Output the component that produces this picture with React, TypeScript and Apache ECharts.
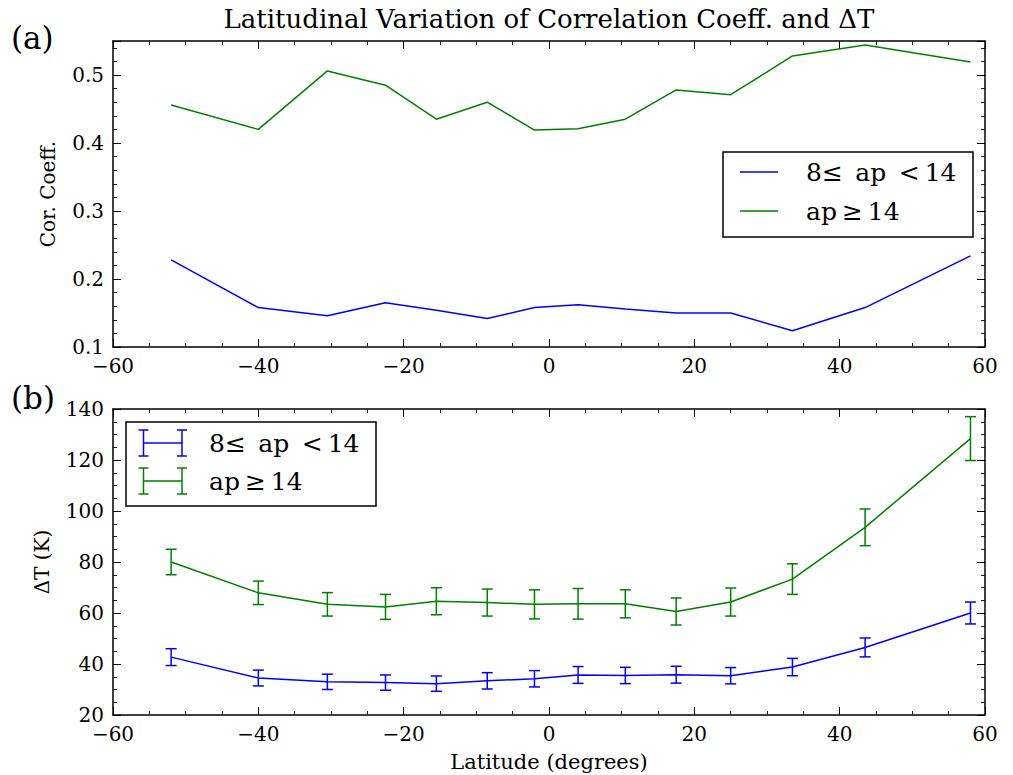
import React, { useEffect, useRef } from "react";
import * as echarts from "echarts";

const latitudes = [-52, -40, -30.5, -22.5, -15.5, -8.5, -2, 4, 10.5, 17.5, 25, 33.5, 43.5, 58];
const corrLow = [0.228, 0.158, 0.146, 0.165, 0.154, 0.142, 0.158, 0.162, 0.156, 0.150, 0.150, 0.124, 0.158, 0.234];
const corrHigh = [0.456, 0.420, 0.506, 0.485, 0.435, 0.460, 0.419, 0.421, 0.435, 0.478, 0.471, 0.528, 0.544, 0.519];
const dtLow = [42.7, 34.5, 33.0, 32.7, 32.3, 33.4, 34.2, 35.7, 35.5, 35.8, 35.4, 38.8, 46.5, 60.0];
const dtLowErr = [3.3, 3.1, 3.0, 3.0, 3.0, 3.2, 3.2, 3.3, 3.2, 3.3, 3.2, 3.4, 3.7, 4.3];
const dtHigh = [80.0, 67.9, 63.4, 62.4, 64.6, 64.1, 63.4, 63.6, 63.6, 60.6, 64.3, 73.3, 93.6, 128.4];
const dtHighErr = [5.0, 4.6, 4.6, 4.9, 5.3, 5.3, 5.7, 6.0, 5.5, 5.3, 5.5, 6.0, 7.2, 8.6];

const labelLow = "8≤\u2002ap\u2002<\u200914";
const labelHigh = "ap\u2009≥\u200914";
const titleText = "Latitudinal Variation of Correlation Coeff. and ΔT";

const BLUE = "#0000ff";
const GREEN = "#008000";
const FONT = "DejaVu Serif";

export default function App() {
  const ref = useRef<HTMLDivElement>(null);
  useEffect(() => {
    if (!ref.current) return;
    const chart = echarts.init(ref.current, null, { renderer: "svg" });

    const axisLine = { show: true, onZero: false, lineStyle: { color: "#000", width: 1.5 } };
    const tick = (len: number) => ({ show: true, inside: true, length: len, lineStyle: { color: "#000", width: 1 } });
    const minor = (n: number) => ({ show: true, splitNumber: n, length: 4, lineStyle: { color: "#222", width: 1 } });
    const xLabel = {
      show: true,
      margin: 9,
      fontFamily: FONT,
      fontSize: 20,
      color: "#000",
      formatter: (v: number) => String(v).replace("-", "\u2212"),
    };
    const xBase = (grid: number, pos: string, labels: boolean, extra: any = {}) => ({
      type: "value",
      gridIndex: grid,
      position: pos,
      min: -60,
      max: 60,
      interval: 20,
      axisLine,
      axisTick: tick(8),
      minorTick: minor(4),
      splitLine: { show: false },
      minorSplitLine: { show: false },
      axisLabel: labels ? xLabel : { show: false },
      ...extra,
    });
    const yBase = (grid: number, pos: string, min: number, max: number, interval: number, minorN: number, labels: boolean, showMax: boolean, fmt: any, extra: any = {}) => ({
      type: "value",
      gridIndex: grid,
      position: pos,
      min,
      max,
      interval,
      axisLine,
      axisTick: tick(8),
      minorTick: minor(minorN),
      splitLine: { show: false },
      minorSplitLine: { show: false },
      axisLabel: labels
        ? { show: true, margin: 9, fontFamily: FONT, fontSize: 20, color: "#000", showMaxLabel: showMax, formatter: fmt }
        : { show: false },
      ...extra,
    });

    const errSeries = (name: string, vals: number[], errs: number[], color: string) => ({
      type: "custom",
      name,
      xAxisIndex: 1,
      yAxisIndex: 1,
      data: latitudes.map((x, i) => [x, vals[i] - errs[i], vals[i] + errs[i]]),
      encode: { x: 0, y: [1, 2] },
      z: 3,
      renderItem: (_p: any, api: any) => {
        const x = api.value(0);
        const lo = api.coord([x, api.value(1)]);
        const hi = api.coord([x, api.value(2)]);
        const w = 5.5;
        const style = { stroke: color, lineWidth: 1.5 };
        return {
          type: "group",
          children: [
            { type: "line", shape: { x1: lo[0], y1: lo[1], x2: hi[0], y2: hi[1] }, style },
            { type: "line", shape: { x1: lo[0] - w, y1: lo[1], x2: lo[0] + w, y2: lo[1] }, style },
            { type: "line", shape: { x1: hi[0] - w, y1: hi[1], x2: hi[0] + w, y2: hi[1] }, style },
          ],
        };
      },
    });

    const lineSeries = (name: string, vals: number[], color: string, xi: number, yi: number) => ({
      type: "line",
      name,
      xAxisIndex: xi,
      yAxisIndex: yi,
      data: latitudes.map((x, i) => [x, vals[i]]),
      showSymbol: false,
      symbol: "none",
      lineStyle: { color, width: 1.5 },
      itemStyle: { color },
      z: 4,
    });

    const txt = (x: number, y: number, text: string, size: number, extra: any = {}) => ({
      type: "text",
      x,
      y,
      z: 100,
      style: { text, fontFamily: FONT, fontSize: size, fill: "#000", verticalAlign: "middle", align: "left", ...extra },
    });
    const seg = (x1: number, y1: number, x2: number, y2: number, color: string) => ({
      type: "line",
      z: 101,
      shape: { x1, y1, x2, y2 },
      style: { stroke: color, lineWidth: 1.5 },
    });
    const errIcon = (yc: number, color: string) => {
      const xl = 143.5, xr = 182, h = 13, w = 5;
      return [
        seg(xl, yc, xr, yc, color),
        seg(xl, yc - h, xl, yc + h, color),
        seg(xr, yc - h, xr, yc + h, color),
        seg(xl - w, yc - h, xl + w, yc - h, color),
        seg(xl - w, yc + h, xl + w, yc + h, color),
        seg(xr - w, yc - h, xr + w, yc - h, color),
        seg(xr - w, yc + h, xr + w, yc + h, color),
      ];
    };

    chart.setOption({
      animation: false,
      backgroundColor: "#fff",
      title: {
        text: titleText,
        left: 549,
        top: 6,
        padding: 0,
        textAlign: "center",
        textStyle: { fontFamily: FONT, fontSize: 26, fontWeight: "normal", color: "#000" },
      },
      grid: [
        { left: 113, top: 41, width: 872, height: 306 },
        { left: 113, top: 409, width: 872, height: 306 },
      ],
      xAxis: [
        xBase(0, "bottom", true),
        xBase(1, "bottom", true, {
          name: "Latitude (degrees)",
          nameLocation: "middle",
          nameGap: 36,
          nameTextStyle: { fontFamily: FONT, fontSize: 21, color: "#000" },
        }),
        xBase(0, "top", false),
        xBase(1, "top", false),
      ],
      yAxis: [
        yBase(0, "left", 0.1, 0.55, 0.1, 5, true, false, (v: number) => v.toFixed(1), {
          name: "Cor. Coeff.",
          nameLocation: "middle",
          nameGap: 55,
          nameTextStyle: { fontFamily: FONT, fontSize: 20, color: "#000" },
        }),
        yBase(1, "left", 20, 140, 20, 4, true, true, (v: number) => String(v), {
          name: "ΔT (K)",
          nameLocation: "middle",
          nameGap: 61,
          nameTextStyle: { fontFamily: FONT, fontSize: 20, color: "#000" },
        }),
        yBase(0, "right", 0.1, 0.55, 0.1, 5, false, false, null),
        yBase(1, "right", 20, 140, 20, 4, false, false, null),
      ],
      series: [
        lineSeries(labelLow, corrLow, BLUE, 0, 0),
        lineSeries(labelHigh, corrHigh, GREEN, 0, 0),
        lineSeries(labelLow, dtLow, BLUE, 1, 1),
        lineSeries(labelHigh, dtHigh, GREEN, 1, 1),
        errSeries(labelLow, dtLow, dtLowErr, BLUE),
        errSeries(labelHigh, dtHigh, dtHighErr, GREEN),
      ],
      graphic: [
        txt(11, 38, "(a)", 31),
        txt(11, 398, "(b)", 31),
        {
          type: "rect",
          z: 99,
          shape: { x: 723, y: 152, width: 250, height: 85 },
          style: { fill: "#fff", stroke: "#000", lineWidth: 1.5 },
        },
        seg(740, 172, 778, 172, BLUE),
        seg(740, 211, 778, 211, GREEN),
        txt(806, 172, labelLow, 25),
        txt(806, 211, labelHigh, 25),
        {
          type: "rect",
          z: 99,
          shape: { x: 126, y: 422, width: 250, height: 84 },
          style: { fill: "#fff", stroke: "#000", lineWidth: 1.5 },
        },
        ...errIcon(443, BLUE),
        ...errIcon(481, GREEN),
        txt(209, 443, labelLow, 25),
        txt(209, 481, labelHigh, 25),
      ],
    });
    return () => chart.dispose();
  }, []);
  return <div ref={ref} style={{ position: "fixed", left: 0, top: 0, width: 1013, height: 775 }} />;
}
